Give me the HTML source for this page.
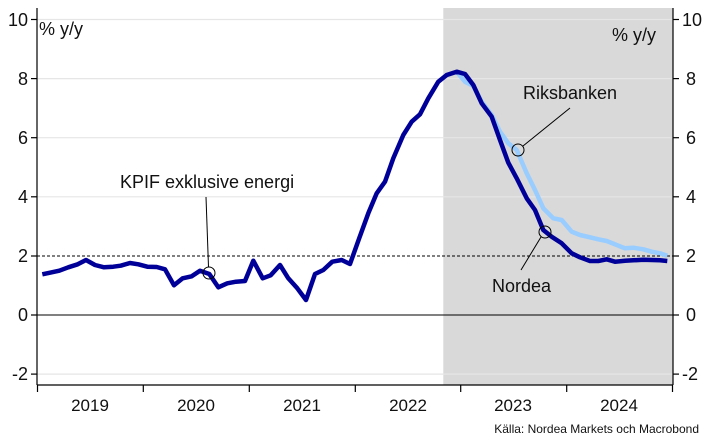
<!DOCTYPE html>
<html><head><meta charset="utf-8"><style>
html,body{margin:0;padding:0;background:#fff;}
svg{display:block;font-family:"Liberation Sans",sans-serif;}
</style></head><body>
<svg width="710" height="448" viewBox="0 0 710 448">
<rect x="443.3" y="8" width="229.7" height="377" fill="#d9d9d9"/>
<g stroke="#e6e6e6" stroke-width="1.2">
<line x1="37" x2="673" y1="19.5" y2="19.5"/><line x1="37" x2="673" y1="78.6" y2="78.6"/>
<line x1="37" x2="673" y1="137.7" y2="137.7"/><line x1="37" x2="673" y1="196.8" y2="196.8"/>
<line x1="37" x2="673" y1="374.1" y2="374.1"/>
</g>
<line x1="37" x2="673" y1="256" y2="256" stroke="#000" stroke-width="1" stroke-dasharray="3,2"/>
<line x1="37" x2="673" y1="315" y2="315" stroke="#000" stroke-width="1"/>
<g stroke="#000" stroke-width="1.2" fill="none">
<line x1="37" x2="37" y1="8" y2="385"/><line x1="673" x2="673" y1="8" y2="385"/>
<line x1="37" x2="673" y1="385" y2="385"/>
<line x1="31" x2="37" y1="19.5" y2="19.5"/><line x1="31" x2="37" y1="78.6" y2="78.6"/><line x1="31" x2="37" y1="137.7" y2="137.7"/><line x1="31" x2="37" y1="196.8" y2="196.8"/><line x1="31" x2="37" y1="256" y2="256"/><line x1="31" x2="37" y1="315" y2="315"/><line x1="31" x2="37" y1="374.1" y2="374.1"/>
<line x1="673" x2="679" y1="19.5" y2="19.5"/><line x1="673" x2="679" y1="78.6" y2="78.6"/><line x1="673" x2="679" y1="137.7" y2="137.7"/><line x1="673" x2="679" y1="196.8" y2="196.8"/><line x1="673" x2="679" y1="256" y2="256"/><line x1="673" x2="679" y1="315" y2="315"/><line x1="673" x2="679" y1="374.1" y2="374.1"/>
<line x1="37.5" x2="37.5" y1="385" y2="392"/><line x1="143.3" x2="143.3" y1="385" y2="392"/><line x1="249.3" x2="249.3" y1="385" y2="392"/><line x1="355.3" x2="355.3" y1="385" y2="392"/><line x1="460.7" x2="460.7" y1="385" y2="392"/><line x1="566.7" x2="566.7" y1="385" y2="392"/><line x1="672.5" x2="672.5" y1="385" y2="392"/>
</g>
<g font-size="18" fill="#111" text-anchor="end">
<text x="28" y="26">10</text><text x="28" y="85">8</text><text x="28" y="144">6</text><text x="28" y="203">4</text><text x="28" y="262">2</text><text x="28" y="321">0</text><text x="28" y="380">-2</text>
</g>
<g font-size="18" fill="#111">
<text x="682" y="26">10</text><text x="686" y="85">8</text><text x="686" y="144">6</text><text x="686" y="203">4</text><text x="686" y="262">2</text><text x="686" y="321">0</text><text x="682" y="380">-2</text>
</g>
<g font-size="17" fill="#111" text-anchor="middle">
<text x="90" y="411">2019</text><text x="196" y="411">2020</text><text x="302" y="411">2021</text><text x="408" y="411">2022</text><text x="513" y="411">2023</text><text x="619" y="411">2024</text>
</g>
<text x="39" y="35" font-size="18" fill="#111">% y/y</text>
<text x="656" y="41" font-size="18" fill="#111" text-anchor="end">% y/y</text>
<polyline fill="none" stroke="#99ccff" stroke-width="4.5" stroke-linejoin="round" points="456.7,71.7 465,81.7 473.3,86 481.7,101.7 491.7,115 500,131.7 508.3,143.3 516.7,150 526.7,173.3 535,190 543.3,208.3 553.3,218.3 561.7,220 571.7,231.7 580,235 590,237.3 598.3,239.3 606.7,241 615,244.3 625,248.3 633.3,247.7 643.3,249.3 651.7,251.7 660,253.3 667.3,255.7"/>
<polyline fill="none" stroke="#000099" stroke-width="4.5" stroke-linejoin="round" points="42.3,274.3 50,272.7 59.3,270.7 68.3,267.3 77.7,264.3 86,260 95,265 104,267.3 113.3,266.7 120.7,265.7 130,263 138.3,264.3 147.3,266.7 156.7,267 165,269.3 174,285.3 182.7,278.3 191.7,276.3 200,270.7 209.3,274 218.3,287.3 227.3,283.3 236,281.7 245,281 253.3,260.7 262.7,278.3 270.7,275.3 280,265 288.3,278.3 297.3,288.3 306,300 315,274 323.3,270 332.3,261.7 341.7,260 350,264 359.3,238 368.3,213.3 376.7,193.3 385,181.7 393.3,158.3 403.3,135 411.7,121.7 420,114.3 428.3,98.3 438.3,81.7 446.7,75 456.7,71.7 465,74 473.3,85 481.7,103.3 491.7,116.7 500,140 508.3,162.7 516.7,178.3 526.7,198.3 535,210 543.3,230 551.7,236.7 561.7,243.3 571.7,253.3 580,257.3 590,261 598.3,261 606.7,259.3 615,261.7 625,260.7 633.3,260.3 643.3,259.7 651.7,260 660,260.3 667.3,261"/>
<g fill="none" stroke="#000" stroke-width="1">
<circle cx="209" cy="273" r="6"/><line x1="208.5" y1="267" x2="206" y2="197"/>
<circle cx="518" cy="150" r="6"/><line x1="523" y1="146" x2="570" y2="108"/>
<circle cx="545" cy="232" r="6"/><line x1="541" y1="237" x2="521" y2="270"/>
</g>
<g font-size="18" fill="#111">
<text x="120" y="188">KPIF exklusive energi</text>
<text x="523" y="99">Riksbanken</text>
<text x="492" y="292">Nordea</text>
</g>
<text x="699" y="433" font-size="12" fill="#111" text-anchor="end">Källa: Nordea Markets och Macrobond</text>
</svg>
</body></html>
